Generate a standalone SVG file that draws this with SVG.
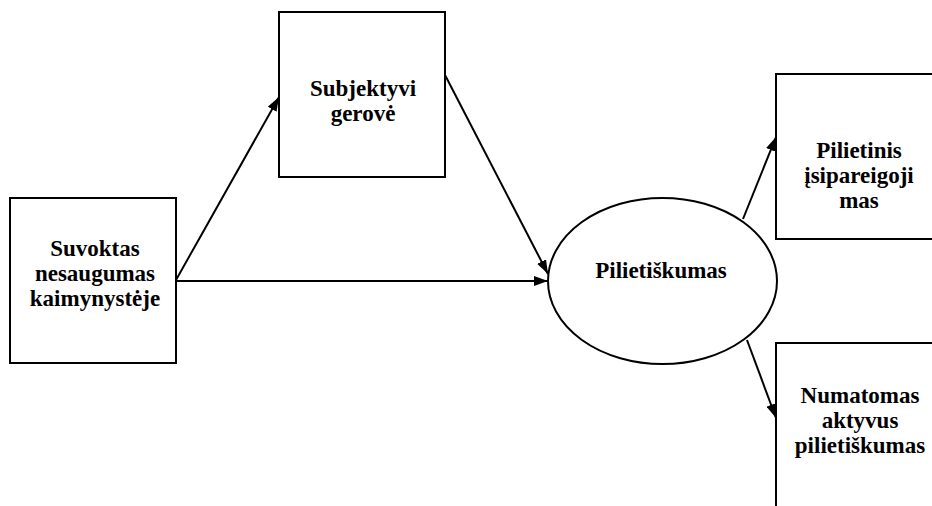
<svg xmlns="http://www.w3.org/2000/svg" width="932" height="506" viewBox="0 0 932 506">
<style>
.box{fill:#fff;stroke:#000;stroke-width:2}
.lbl{font-family:'Liberation Serif','Times New Roman',serif;font-weight:700;font-size:23px;fill:#000;text-anchor:middle}
.conn line{stroke:#000;stroke-width:2}
</style>
<defs>
<marker id="ah" viewBox="0 0 14 10" refX="14" refY="5" markerWidth="14" markerHeight="10" markerUnits="userSpaceOnUse" orient="auto">
<path d="M0,0 L14,5 L0,10 z" fill="#000"/>
</marker>
</defs>
<rect width="932" height="506" fill="#fff"/>
<g id="n1">
<rect class="box" x="10" y="198" width="166" height="165"/>
<text class="lbl" x="95" y="256">Suvoktas</text>
<text class="lbl" x="95" y="281">nesaugumas</text>
<text class="lbl" x="95" y="306">kaimynystėje</text>
</g>
<g id="n2">
<rect class="box" x="279" y="12" width="166" height="165"/>
<text class="lbl" x="363" y="96">Subjektyvi</text>
<text class="lbl" x="363" y="121">gerovė</text>
</g>
<g id="n3">
<ellipse class="box" cx="662.5" cy="281" rx="114.5" ry="83"/>
<text class="lbl" x="661" y="278">Pilietiškumas</text>
</g>
<g id="n4">
<rect class="box" x="776" y="74" width="170" height="165"/>
<text class="lbl" x="859" y="158">Pilietinis</text>
<text class="lbl" x="859" y="183">įsipareigoji</text>
<text class="lbl" x="859" y="208">mas</text>
</g>
<g id="n5">
<rect class="box" x="776" y="343" width="170" height="180"/>
<text class="lbl" x="860" y="403">Numatomas</text>
<text class="lbl" x="860" y="428">aktyvus</text>
<text class="lbl" x="860" y="453">pilietiškumas</text>
</g>
<g id="connectors" class="conn">
<line x1="176" y1="280" x2="279" y2="97" marker-end="url(#ah)"/>
<line x1="176" y1="281" x2="548" y2="281" marker-end="url(#ah)"/>
<line x1="445" y1="75" x2="548" y2="274" marker-end="url(#ah)"/>
<line x1="743" y1="219" x2="776" y2="137" marker-end="url(#ah)"/>
<line x1="747" y1="340" x2="776" y2="418" marker-end="url(#ah)"/>
</g>
</svg>
